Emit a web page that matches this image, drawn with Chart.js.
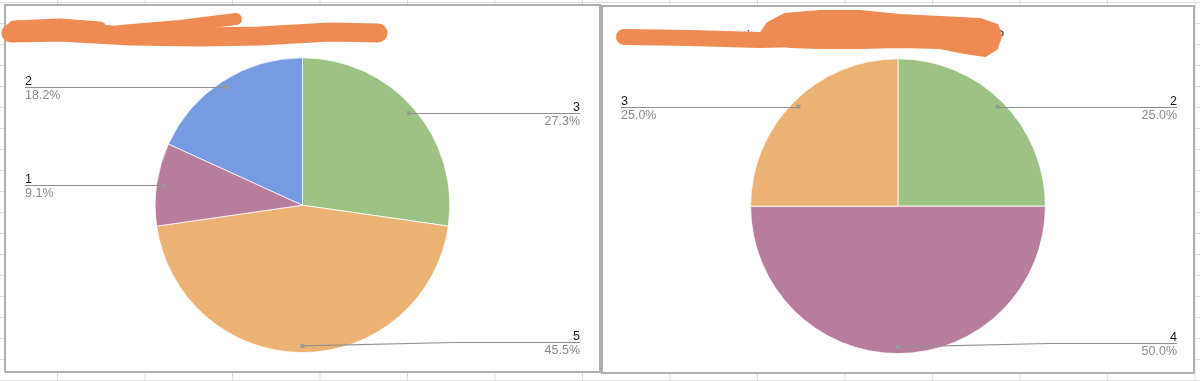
<!DOCTYPE html>
<html>
<head>
<meta charset="utf-8">
<script src="https://cdn.jsdelivr.net/npm/chart.js@4.4.1/dist/chart.umd.min.js"></script>
<style>
  html, body { margin: 0; padding: 0; }
  body {
    width: 1200px; height: 381px; overflow: hidden; position: relative;
    background-color: #fff;
    background-image:
      linear-gradient(to right, #dcdcdc 1px, transparent 1px),
      linear-gradient(to bottom, #dcdcdc 1px, transparent 1px);
    background-size: 87.5px 100%, 100% 21px;
    background-position: 57px 0, 0 2px;
  }
  .frame { position: absolute; box-sizing: border-box; border: 2px solid #b0b0b0; background: #fff; }
  #f1 { left: 4px; top: 4px; width: 597px; height: 369px; }
  #f2 { left: 601px; top: 5px; width: 594px; height: 369px; }
  .frame canvas { position: absolute; left: 0; top: 0; }
  #overlay { position: absolute; left: 0; top: 0; pointer-events: none; }
</style>
</head>
<body>
<div class="frame" id="f1"><canvas id="c1" width="593" height="365"></canvas></div>
<div class="frame" id="f2"><canvas id="c2" width="590" height="365"></canvas></div>
<canvas id="overlay" width="1200" height="381"></canvas>
<script>
// ---- data ----
const leftTitle = "How is the support team handling your services?";
const leftCategories = ["3", "5", "1", "2"];
const leftValues = [3, 5, 1, 2];
const leftColors = ["#9cc383", "#ecb273", "#b87d9c", "#779be3"];

const rightTitle = "How is the experience of using our services so far?";
const rightCategories = ["2", "4", "3"];
const rightValues = [1, 2, 1];
const rightColors = ["#9cc383", "#b87d9c", "#ecb273"];

const FONT = "'Liberation Sans', Arial, sans-serif";

const sliceLabels = {
  id: 'sliceLabels',
  afterDraw(chart, args, opts) {
    const ctx = chart.ctx;
    const meta = chart.getDatasetMeta(0);
    const data = chart.data.datasets[0].data;
    const total = data.reduce((a, b) => a + b, 0);
    ctx.save();
    meta.data.forEach((arc, i) => {
      const p = arc.getProps(['x', 'y', 'startAngle', 'endAngle', 'outerRadius'], true);
      const mid = (p.startAngle + p.endAngle) / 2;
      const r = p.outerRadius * 0.955;
      const dx = p.x + Math.cos(mid) * r;
      const dy = p.y + Math.sin(mid) * r;
      const left = dx < p.x;
      let ly = Math.min(Math.max(dy, p.y - p.outerRadius + 11), p.y + p.outerRadius - 11);
      const bent = Math.abs(ly - dy) > 0.5;
      ly = Math.round(ly) + 0.5;
      const lx = left ? opts.leftX : chart.width - opts.rightInset;
      ctx.strokeStyle = '#8f8f8f';
      ctx.lineWidth = 1.2;
      ctx.beginPath();
      ctx.moveTo(dx, bent ? dy : ly);
      if (bent) {
        const bx = left ? p.x - p.outerRadius - 4 : p.x + p.outerRadius + 4;
        ctx.lineTo(bx, ly);
      }
      ctx.lineTo(lx, ly);
      ctx.stroke();
      ctx.fillStyle = '#999';
      ctx.fillRect(dx - 2, dy - 2, 4, 4);
      ctx.font = '12.5px ' + FONT;
      ctx.textAlign = left ? 'left' : 'right';
      ctx.textBaseline = 'alphabetic';
      ctx.fillStyle = '#1a1a1a';
      ctx.fillText(chart.data.labels[i], lx, ly - 3);
      ctx.fillStyle = '#8a8a8a';
      ctx.fillText((data[i] / total * 100).toFixed(1) + '%', lx, ly + 11.5);
    });
    ctx.restore();
  }
};

function makePie(id, title, labels, values, colors, padL, padR, leftX, rightInset, titleSize) {
  return new Chart(document.getElementById(id), {
    type: 'pie',
    data: {
      labels: labels,
      datasets: [{ data: values, backgroundColor: colors, borderColor: '#ffffff', borderWidth: 0.8 }]
    },
    options: {
      responsive: false,
      animation: false,
      rotation: 0,
      layout: { padding: { left: padL, right: padR, top: 0, bottom: 18 } },
      plugins: {
        legend: { display: false },
        tooltip: { enabled: false },
        title: {
          display: true, text: title, align: 'start', color: '#555',
          font: { family: FONT, size: titleSize, weight: 'normal', lineHeight: 20.4 / titleSize },
          padding: { top: 20, bottom: 11 }
        },
        sliceLabels: { leftX: leftX, rightInset: rightInset }
      }
    },
    plugins: [sliceLabels]
  });
}

makePie('c1', leftTitle, leftCategories, leftValues, leftColors, 19, 19, 19, 19, 16);
makePie('c2', rightTitle, rightCategories, rightValues, rightColors, 17, 17, 18, 16, 17);

// ---- redaction scribbles over the titles ----
(function () {
  const o = document.getElementById('overlay').getContext('2d');
  o.strokeStyle = o.fillStyle = '#ee8b52';
  o.lineCap = 'round'; o.lineJoin = 'round';
  function stroke(w, pts) {
    o.lineWidth = w; o.beginPath(); o.moveTo(pts[0][0], pts[0][1]);
    for (let i = 1; i < pts.length; i++) o.lineTo(pts[i][0], pts[i][1]);
    o.stroke();
  }
  stroke(19, [[11,33],[60,32],[130,36],[200,37],[260,36],[330,32],[378,33]]);
  stroke(13, [[14,27],[60,25],[100,28]]);
  stroke(12, [[120,31],[180,26],[236,19]]);
  stroke(16, [[624,37],[690,38],[760,40],[800,39]]);
  const blob = [[768,24],[785,15],[820,12],[860,12],[900,16],[940,18],[980,20],[997,26],[1000,36],[996,48],[985,55],[965,52],[940,47],[900,46],[860,47],[820,47],[790,46],[768,42],[762,33]];
  o.beginPath(); o.moveTo(blob[0][0], blob[0][1]);
  blob.forEach(p => o.lineTo(p[0], p[1]));
  o.closePath(); o.fill(); o.lineWidth = 4; o.stroke();
})();
</script>
</body>
</html>
